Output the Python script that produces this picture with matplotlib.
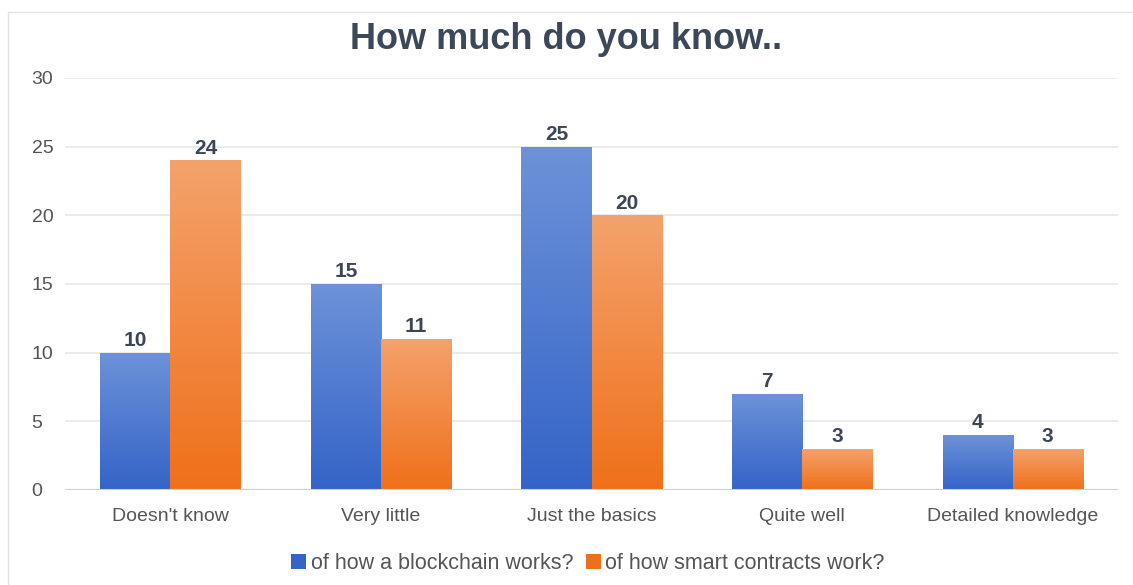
import numpy as np
import matplotlib
matplotlib.use("Agg")
import matplotlib.pyplot as plt
from matplotlib.colors import LinearSegmentedColormap
from matplotlib.patches import Patch
from matplotlib.lines import Line2D

categories = ["Doesn't know", "Very little", "Just the basics", "Quite well", "Detailed knowledge"]
blockchain = [10, 15, 25, 7, 4]
contracts = [24, 11, 20, 3, 3]
series_labels = ["of how a blockchain works?", "of how smart contracts work?"]
yticks = [0, 5, 10, 15, 20, 25, 30]

plt.rcParams['font.family'] = ['Liberation Sans', 'DejaVu Sans']

fig = plt.figure(figsize=(11.33, 5.85), dpi=100)
ax = fig.add_axes([0.0574, 0.1624, 0.9294, 0.7043])

x = np.arange(len(categories))
w = 0.333

blue_top, blue_bot = "#6d92d8", "#3464c8"
orng_top, orng_bot = "#f4a26c", "#ef7019"

def gradient_bars(bars, top, bot):
    cmap = LinearSegmentedColormap.from_list("g", [bot, top])
    grad = np.linspace(0, 1, 256).reshape(-1, 1)
    for b in bars:
        x0, y0 = b.get_x(), b.get_y()
        bw, bh = b.get_width(), b.get_height()
        im = ax.imshow(grad, cmap=cmap, aspect="auto", origin="lower",
                       extent=(x0, x0 + bw, y0, y0 + bh), zorder=2,
                       interpolation="bilinear")
        im.set_clip_path(b)
        b.set_facecolor("none")

b1 = ax.bar(x - w / 2, blockchain, w, color=blue_bot, linewidth=0, zorder=2)
b2 = ax.bar(x + w / 2, contracts, w, color=orng_bot, linewidth=0, zorder=2)
gradient_bars(b1, blue_top, blue_bot)
gradient_bars(b2, orng_top, orng_bot)

label_color = "#3c4654"
for bars, vals in ((b1, blockchain), (b2, contracts)):
    for b, v in zip(bars, vals):
        ax.text(b.get_x() + b.get_width() / 2, v + 0.2, str(v), ha="center",
                va="bottom", fontsize=15, fontweight="bold", color=label_color)

ax.set_xlim(-0.5, len(categories) - 0.5)
ax.set_ylim(0, 30)
ax.set_yticks(yticks)
ax.set_xticks(x)
ax.set_xticklabels(categories)
ax.tick_params(axis="both", length=0, labelsize=14, colors="#555555")
for t in ax.get_yticklabels():
    t.set_horizontalalignment("left")
ax.yaxis.set_tick_params(pad=24)
ax.tick_params(axis="x", pad=13)
ax.grid(axis="y", color="#e8e8e8", linewidth=1.2, zorder=0)
ax.set_axisbelow(True)
for s in ax.spines.values():
    s.set_visible(False)
ax.axhline(0, color="#d0d0d0", linewidth=1.5, zorder=3)

fig.text(0.5, 0.932, "How much do you know..", ha="center", va="center",
         fontsize=26, fontweight="bold", color="#3c4858")

handles = [Patch(facecolor=blue_bot, edgecolor="none"),
           Patch(facecolor=orng_bot, edgecolor="none")]
fig.legend(handles, series_labels, loc="center", bbox_to_anchor=(0.519, 0.037),
           ncol=2, frameon=False, fontsize=15.5, handlelength=0.7, handleheight=0.7,
           handletextpad=0.2, columnspacing=0.6, labelcolor="#555555")

# thin frame on the left and top edges
fig.add_artist(Line2D([8 / 1133, 8 / 1133], [0, 1 - 12 / 585],
                      transform=fig.transFigure, color="#e2e2e2", linewidth=1))
fig.add_artist(Line2D([8 / 1133, 1], [1 - 12 / 585, 1 - 12 / 585],
                      transform=fig.transFigure, color="#e2e2e2", linewidth=1))

fig.savefig("out.png", dpi=100)
